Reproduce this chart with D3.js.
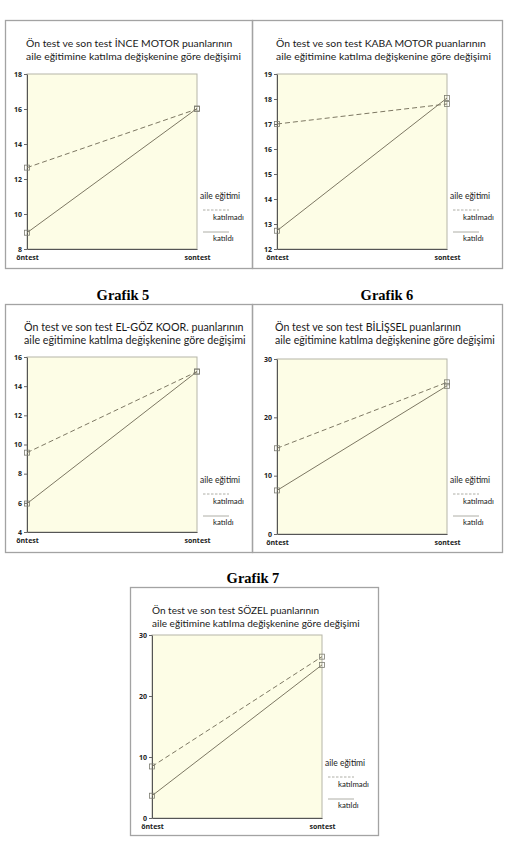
<!DOCTYPE html>
<html>
<head>
<meta charset="utf-8">
<script src="https://cdn.jsdelivr.net/npm/d3@7"></script>
<style>
  body { margin: 0; background: #fff; }
  svg { display: block; }
  .ytick text, .xcat text { font-family: "Open Sans", sans-serif; font-size: 7px; font-weight: 700; fill: #222; }
</style>
</head>
<body>
<div id="chart"></div>
<script>
// values
var times = ["öntest", "sontest"];
var groups = ["katılmadı", "katıldı"];
var subjects = ["İNCE MOTOR", "KABA MOTOR", "EL-GÖZ KOOR.", "BİLİŞSEL", "SÖZEL"];
var captions = [null, null, "Grafik 5", "Grafik 6", "Grafik 7"];
var yDomains = [[8, 18], [12, 19], [4, 16], [0, 30], [0, 30]];
var yTicks = [
  [8, 10, 12, 14, 16, 18],
  [12, 13, 14, 15, 16, 17, 18, 19],
  [4, 6, 8, 10, 12, 14, 16],
  [0, 10, 20, 30],
  [0, 10, 20, 30]
];
var katilmadi = [[12.65, 16.0], [17.0, 17.8], [9.44, 15.0], [14.7, 26.0], [8.45, 26.45]];
var katildi = [[8.93, 16.03], [12.73, 18.04], [5.95, 15.0], [7.47, 25.4], [3.65, 25.1]];

var W = 509, H = 861;

// frame + inner offsets for each panel
var boxes = [
  {fx: 5,   fy: 20,  fw: 247, fh: 248, ox: 5,   top: 54, bot: 229, tx: 21, tw: 215, cx: 0},
  {fx: 252, fy: 20,  fw: 250, fh: 248, ox: 255, top: 54, bot: 229, tx: 21, tw: 215, cx: 0},
  {fx: 5,   fy: 304, fw: 247, fh: 248, ox: 5,   top: 53, bot: 228, tx: 19, tw: 222, cx: 123},
  {fx: 252, fy: 304, fw: 250, fh: 248, ox: 255, top: 55, bot: 230, tx: 20, tw: 220, cx: 387},
  {fx: 130, fy: 587, fw: 248, fh: 248, ox: 130, top: 48, bot: 231, tx: 22, tw: 208, cx: 253}
];

var svg = d3.select("#chart").append("svg")
    .attr("width", W)
    .attr("height", H);

var lineColor = "#7d7863";

subjects.forEach(function(subj, i) {
  var b = boxes[i];

  if (captions[i]) {
    svg.append("text")
        .attr("x", b.cx)
        .attr("y", b.fy - 4)
        .attr("text-anchor", "middle")
        .style("font-family", "'Liberation Serif', serif")
        .style("font-weight", "bold")
        .style("font-size", "14.5px")
        .text(captions[i]);
  }

  svg.append("rect")
      .attr("x", b.fx + 0.5)
      .attr("y", b.fy + 0.5)
      .attr("width", b.fw)
      .attr("height", b.fh)
      .attr("fill", "none")
      .attr("stroke", "#a3a3a3")
      .attr("stroke-width", 1.3);

  var g = svg.append("g")
      .attr("transform", "translate(" + b.ox + "," + b.fy + ")");

  // two line title, font scaled to the measured width
  var t1 = g.append("text").attr("x", b.tx).attr("y", 27)
      .text("Ön test ve son test " + subj + " puanlarının");
  var t2 = g.append("text").attr("x", b.tx).attr("y", 40)
      .text("aile eğitimine katılma değişkenine göre değişimi");
  [t1, t2].forEach(function(t) {
    t.style("font-family", "Lato, sans-serif").style("font-size", "10px").style("fill", "#1a1a1a");
  });
  var fs = 10 * b.tw / t2.node().getComputedTextLength();
  t1.style("font-size", fs + "px");
  t2.style("font-size", fs + "px");

  var x = d3.scalePoint().domain(times).range([22, 192]);
  var y = d3.scaleLinear().domain(yDomains[i]).range([b.bot, b.top]);

  g.append("rect")
      .attr("x", 22)
      .attr("y", b.top)
      .attr("width", 170)
      .attr("height", b.bot - b.top)
      .attr("fill", "#fdfde6")
      .attr("stroke", "#b5b5a8")
      .attr("stroke-width", 1);

  g.append("g")
      .attr("class", "ytick")
      .attr("transform", "translate(22,0)")
      .call(d3.axisLeft(y).tickValues(yTicks[i]).tickFormat(d3.format("d"))
        .tickSize(3).tickSizeOuter(0).tickPadding(2))
      .call(function(a) {
        a.select(".domain").attr("stroke", "#555");
        a.selectAll(".tick line").attr("stroke", "#666");
      });

  g.append("g")
      .attr("class", "xcat")
      .attr("transform", "translate(0," + b.bot + ")")
      .call(d3.axisBottom(x).tickSize(0).tickPadding(6))
      .call(function(a) {
        a.select(".domain").attr("stroke", "#555");
      });

  var line = d3.line()
      .x(function(d, j) { return x(times[j]); })
      .y(function(d) { return y(d); });

  var series = [
    {name: groups[0], vals: katilmadi[i], dash: "5,3"},
    {name: groups[1], vals: katildi[i], dash: null}
  ];

  series.forEach(function(s) {
    g.append("path")
        .datum(s.vals)
        .attr("d", line)
        .attr("fill", "none")
        .attr("stroke", lineColor)
        .attr("stroke-width", 1)
        .attr("stroke-dasharray", s.dash);

    g.selectAll(null)
        .data(s.vals)
        .enter()
        .append("rect")
        .attr("x", function(d, j) { return x(times[j]) - 2.5; })
        .attr("y", function(d) { return y(d) - 2.5; })
        .attr("width", 5)
        .attr("height", 5)
        .attr("fill", "none")
        .attr("stroke", "#7d7d72")
        .attr("stroke-width", 0.8);
  });

  // legend
  var lg = g.append("g").attr("transform", "translate(195,0)");
  lg.append("text")
      .attr("x", 0).attr("y", 179)
      .style("font-family", "Lato, sans-serif")
      .style("font-size", "8.5px")
      .style("fill", "#1a1a1a")
      .text("aile eğitimi");
  series.forEach(function(s, k) {
    lg.append("line")
        .attr("x1", 3).attr("x2", 29)
        .attr("y1", 190 + k * 22).attr("y2", 190 + k * 22)
        .attr("stroke", "#9a9a90")
        .attr("stroke-width", 0.8)
        .attr("stroke-dasharray", s.dash ? "2.5,1.5" : null);
    lg.append("text")
        .attr("x", 13).attr("y", 199.5 + k * 21.5)
        .style("font-family", "Lato, sans-serif")
        .style("font-size", "7.8px")
        .style("fill", "#1a1a1a")
        .text(s.name);
  });
});
</script>
</body>
</html>
